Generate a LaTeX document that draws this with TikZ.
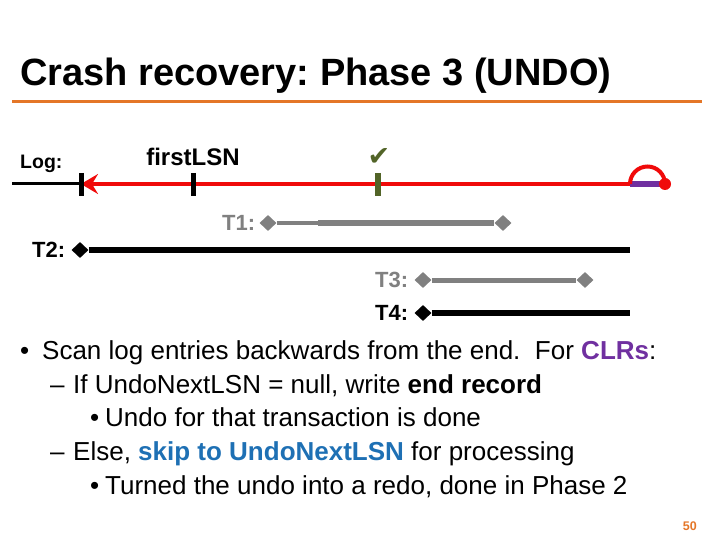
\documentclass[tikz,border=0pt]{standalone}
\usepackage{fontspec}
\setmainfont{Liberation Sans}
\newfontfamily\symfont{DejaVu Sans}
\usetikzlibrary{shapes.geometric, arrows.meta, positioning, calc}
\definecolor{orange1}{RGB}{228, 118, 40}
\definecolor{red1}{RGB}{240, 10, 10}
\definecolor{green1}{RGB}{82, 100, 40}
\definecolor{gray1}{RGB}{128, 128, 128}
\definecolor{violet1}{RGB}{112, 48, 160}
\definecolor{blue1}{RGB}{30, 112, 180}
\frenchspacing

\begin{document}
\begin{tikzpicture}[x=1pt, y=-1pt,
  txlabel/.style={font=\fontsize{22}{26}\selectfont\bfseries, inner sep=0pt},
  txend/.style={diamond, fill, inner sep=0pt, minimum width=17pt, minimum height=16pt},
  logtick/.style={line width=5pt},
  bodytext/.style={font=\fontsize{26}{30}\selectfont, anchor=base west, inner sep=0pt}]
  \useasboundingbox (0,0) rectangle (720,540);

  % title
  \node[anchor=base west, inner sep=0pt, font=\fontsize{38}{44}\selectfont\bfseries] (title) at (20,86) {Crash recovery: Phase 3 (UNDO)};
  \coordinate (ruleL) at (12,102);
  \coordinate (ruleR) at (702,102);
  \draw[orange1, line width=3pt] (ruleL) -- (ruleR);

  % log
  \node[anchor=base west, inner sep=0pt, font=\fontsize{19.5}{22}\selectfont\bfseries] (log) at (20,169) {Log:};
  \coordinate (logstart) at (12,184);
  \coordinate (oldest) at (81,184);
  \coordinate (first) at (193,184);
  \coordinate (ckpt) at (378,184);
  \coordinate (crash) at (630,184);
  \coordinate (crashend) at (662,184);
  \draw[line width=3pt] (logstart) -- (oldest);
  \draw[red1, line width=4pt, -{Stealth[length=17pt, width=20pt, inset=6pt]}] (crash) -- (oldest);
  \draw[logtick] ($(oldest)+(0,-11)$) -- ($(oldest)+(0,12)$);
  \draw[logtick] ($(first)+(0,-11)$) -- ($(first)+(0,12)$);
  \draw[logtick, green1, line width=6pt] ($(ckpt)+(0,-11)$) -- ($(ckpt)+(0,12)$);
  \node[anchor=base, inner sep=0pt, font=\fontsize{24}{28}\selectfont\bfseries] (firstlbl) at (193,166) {firstLSN};
  \node[inner sep=0pt, text=green1, font=\symfont\fontsize{27}{30}\selectfont] (check) at (379,157) {✔};
  \draw[violet1, line width=6pt] (crash) -- (crashend);
  \draw[red1, line width=4pt] (crash) arc[start angle=180, end angle=0, radius=17.5pt];
  \node[circle, fill=red1, inner sep=0pt, minimum size=12pt] (crashdot) at (665,184) {};

  % transactions
  \node[txend, gray1] (t1s) at (268,223) {};
  \node[txend, gray1] (t1e) at (503,223) {};
  \coordinate (t1m) at (318,223);
  \node[txlabel, text=gray1, left=4pt of t1s] (t1) {T1:};
  \draw[gray1, line width=4pt] (t1s) -- (t1m);
  \draw[gray1, line width=5.5pt] (t1m) -- (t1e);

  \node[txend] (t2s) at (80,250) {};
  \coordinate (t2e) at (630,250);
  \node[txlabel, left=6pt of t2s] (t2) {T2:};
  \draw[line width=6pt] (t2s) -- (t2e);

  \node[txend, gray1] (t3s) at (423,280) {};
  \node[txend, gray1] (t3e) at (585,280) {};
  \node[txlabel, text=gray1, left=6pt of t3s] (t3) {T3:};
  \draw[gray1, line width=5pt] (t3s) -- (t3e);

  \node[txend] (t4s) at (423,313) {};
  \coordinate (t4e) at (630,313);
  \node[txlabel, left=6pt of t4s] (t4) {T4:};
  \draw[line width=6pt] (t4s) -- (t4e);

  % bullets
  \node[bodytext] (b1) at (20,359) {•};
  \node[bodytext] (l1) at (42,359) {Scan log entries backwards from the end.\ \ For \textbf{\color{violet1}CLRs}:};
  \node[bodytext] (d2) at (50,393) {–};
  \node[bodytext] (l2) at (73,393) {If UndoNextLSN = null, write \textbf{end record}};
  \node[bodytext] (b3) at (90,426) {•};
  \node[bodytext] (l3) at (105,426) {Undo for that transaction is done};
  \node[bodytext] (d4) at (50,460) {–};
  \node[bodytext] (l4) at (73,460) {Else, \textbf{\color{blue1}skip to UndoNextLSN} for processing};
  \node[bodytext] (b5) at (90,494) {•};
  \node[bodytext] (l5) at (105,494) {Turned the undo into a redo, done in Phase 2};

  \node[anchor=base east, inner sep=0pt, text=orange1, font=\fontsize{12.5}{14}\selectfont\bfseries] (page) at (697,530) {50};
\end{tikzpicture}
\end{document}
